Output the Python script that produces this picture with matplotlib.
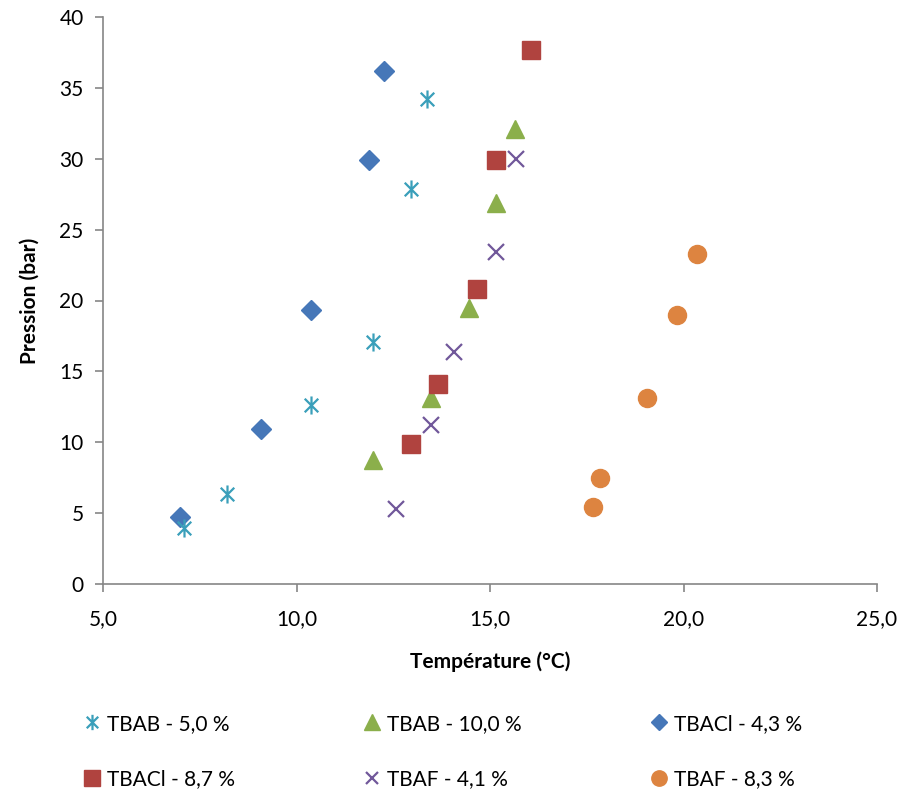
import matplotlib
matplotlib.use("Agg")
import matplotlib.pyplot as plt
from matplotlib.path import Path
import numpy as np

plt.rcParams['font.family'] = ['Lato', 'DejaVu Sans']

labels = ["TBAB - 5,0 %", "TBAB - 10,0 %", "TBACl - 4,3 %",
          "TBACl - 8,7 %", "TBAF - 4,1 %", "TBAF - 8,3 %"]

tbab5_x = [7.09, 8.2, 10.37, 11.98, 12.96, 13.37]
tbab5_y = [3.95, 6.35, 12.6, 17.07, 27.87, 34.2]
tbab10_x = [11.98, 13.48, 14.46, 15.16, 15.65]
tbab10_y = [8.75, 13.1, 19.5, 26.9, 32.1]
tbacl43_x = [6.99, 9.08, 10.37, 11.87, 12.26]
tbacl43_y = [4.7, 10.9, 19.3, 29.9, 36.2]
tbacl87_x = [12.96, 13.66, 14.66, 15.16, 16.06]
tbacl87_y = [9.9, 14.1, 20.8, 29.9, 37.7]
tbaf41_x = [12.57, 13.48, 14.07, 15.16, 15.67]
tbaf41_y = [5.3, 11.2, 16.4, 23.4, 30.0]
tbaf83_x = [17.66, 17.84, 19.06, 19.83, 20.35]
tbaf83_y = [5.4, 7.5, 13.1, 19.0, 23.3]

xticks = [5.0, 10.0, 15.0, 20.0, 25.0]
xticklabels = ["5,0", "10,0", "15,0", "20,0", "25,0"]
yticks = [0, 5, 10, 15, 20, 25, 30, 35, 40]

# asterisk marker: vertical line + two diagonals
d = 0.75
ast_verts = [(0, -1), (0, 1), (-d, -d), (d, d), (-d, d), (d, -d)]
ast_codes = [Path.MOVETO, Path.LINETO] * 3
asterisk = Path(ast_verts, ast_codes)

fig = plt.figure(figsize=(9.01, 7.91), dpi=100)
ax = fig.add_axes([103/901, 1-584/791, (877-103)/901, (584-17)/791])

c_aqua = "#3A9FBA"
c_green = "#8BAF4B"
c_blue = "#4677B8"
c_red = "#B0433F"
c_purple = "#71589A"
c_orange = "#DD8440"

ax.plot(tbab10_x, tbab10_y, ls='none', marker='^', ms=13, color=c_green,
        mec=c_green, label=labels[1], zorder=3)
ax.plot(tbacl43_x, tbacl43_y, ls='none', marker='D', ms=10, color=c_blue,
        mec=c_blue, label=labels[2], zorder=3)
ax.plot(tbacl87_x, tbacl87_y, ls='none', marker='s', ms=13, color=c_red,
        mec=c_red, label=labels[3], zorder=3)
ax.plot(tbaf41_x, tbaf41_y, ls='none', marker='x', ms=11, mew=1.6,
        color=c_purple, label=labels[4], zorder=3)
ax.plot(tbaf83_x, tbaf83_y, ls='none', marker='o', ms=13, color=c_orange,
        mec=c_orange, label=labels[5], zorder=3)
ax.plot(tbab5_x, tbab5_y, ls='none', marker=asterisk, ms=13, mew=1.6,
        mec=c_aqua, mfc='none', label=labels[0], zorder=4)

ax.set_xlim(5, 25)
ax.set_ylim(0, 40)
ax.set_xticks(xticks)
ax.set_xticklabels(xticklabels)
ax.set_yticks(yticks)
for s in ['top', 'right']:
    ax.spines[s].set_visible(False)
for s in ['left', 'bottom']:
    ax.spines[s].set_color('#868686')
    ax.spines[s].set_linewidth(1.2)
ax.tick_params(axis='both', colors='#868686', labelcolor='black',
               labelsize=15, length=6, width=1.2, direction='out')
ax.tick_params(axis='x', pad=12)
ax.tick_params(axis='y', pad=8)

ax.set_xlabel("Température (°C)", fontsize=15, fontweight='bold', labelpad=16)
ax.set_ylabel("Pression (bar)", fontsize=15, fontweight='bold', labelpad=14)

handles, labs = ax.get_legend_handles_labels()
hmap = dict(zip(labs, handles))
order = [labels[0], labels[3], labels[1], labels[4], labels[2], labels[5]]
leg = fig.legend([hmap[l] for l in order], order,
                 ncol=3, loc='upper left', bbox_to_anchor=(63/901, 1-695/791),
                 frameon=False, fontsize=15, handlelength=1.0,
                 handletextpad=0.2, columnspacing=6.1, labelspacing=1.72,
                 markerscale=0.85)

fig.savefig("out.png", dpi=100)
